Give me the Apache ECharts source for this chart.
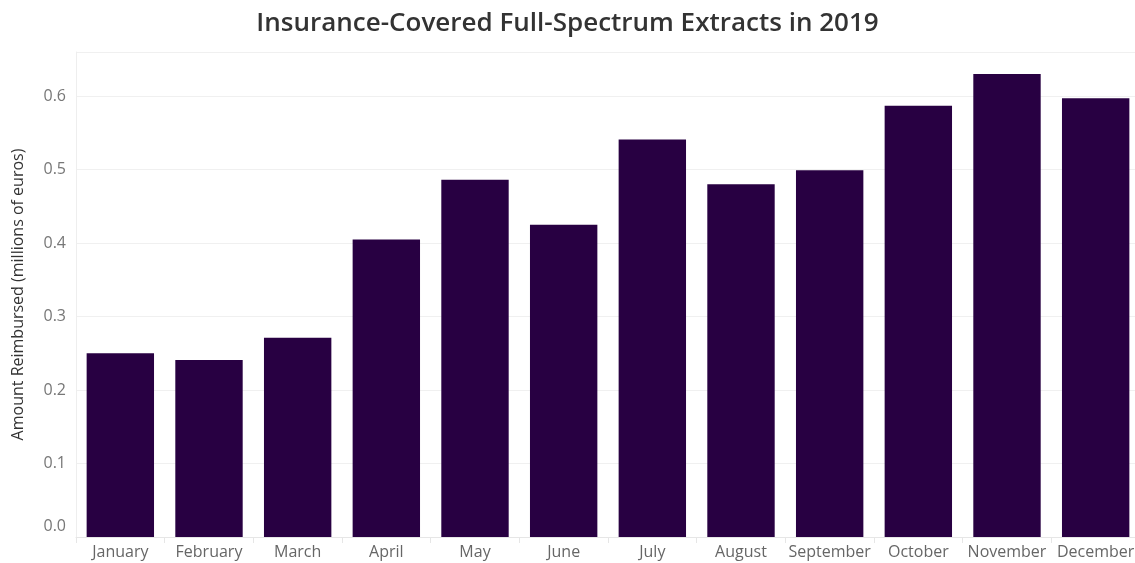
<!DOCTYPE html>
<html>
<head>
<meta charset="utf-8">
<script src="https://cdn.jsdelivr.net/npm/echarts@6/dist/echarts.min.js"></script>
<style>
    html, body { margin: 0; padding: 0; background: #fff; }
    #chart { width: 1135px; height: 563px; }
</style>
</head>
<body>
<div id="chart"></div>
<script>
    // data
    var months = ['January', 'February', 'March', 'April', 'May', 'June',
        'July', 'August', 'September', 'October', 'November', 'December'];
    var reimbursed = [0.250, 0.241, 0.271, 0.405, 0.486, 0.425,
        0.541, 0.480, 0.499, 0.587, 0.630, 0.597];
    var yTicks = [0, 0.1, 0.2, 0.3, 0.4, 0.5, 0.6];

    var myChart = echarts.init(document.getElementById('chart'));
    myChart.setOption({
        animation: false,
        title: {
            text: 'Insurance-Covered Full-Spectrum Extracts in 2019',
            left: 'center',
            top: 6,
            textStyle: {
                fontFamily: 'Open Sans',
                fontSize: 26,
                fontWeight: 600,
                color: '#333333'
            }
        },
        grid: {
            left: 76,
            right: -5,
            top: 52,
            bottom: 26,
            containLabel: false,
            outerBoundsMode: 'none'
        },
        xAxis: {
            type: 'category',
            data: months,
            axisLine: { show: true, lineStyle: { color: '#e6e6e6' } },
            axisTick: { show: true, length: 6, lineStyle: { color: '#e6e6e6' } },
            axisLabel: {
                interval: 0,
                fontFamily: 'Open Sans',
                fontSize: 16,
                color: '#666666',
                margin: 7
            }
        },
        yAxis: {
            type: 'value',
            min: 0,
            max: 0.66,
            interval: 0.1,
            name: 'Amount Reimbursed (millions of euros)',
            nameLocation: 'middle',
            nameGap: 50,
            nameTextStyle: {
                fontFamily: 'Open Sans',
                fontSize: 16,
                color: '#333333'
            },
            axisLine: { show: true, lineStyle: { color: '#eeeeee' } },
            axisTick: { show: false },
            splitLine: { lineStyle: { color: '#f0f0f0' } },
            axisLabel: {
                fontFamily: 'Open Sans',
                fontSize: 16,
                color: '#777777',
                margin: 10,
                showMaxLabel: false,
                formatter: function (v) {
                    if (yTicks.indexOf(Math.round(v * 10) / 10) < 0) return '';
                    if (v === 0) return '{z|0.0}';
                    return v.toFixed(1);
                },
                rich: {
                    z: {
                        fontFamily: 'Open Sans',
                        fontSize: 16,
                        color: '#777777',
                        padding: [0, 0, 22, 0]
                    }
                }
            }
        },
        series: [{
            name: 'Amount Reimbursed',
            type: 'bar',
            data: reimbursed,
            barWidth: '76%',
            itemStyle: { color: '#280042' }
        }]
    });
</script>
</body>
</html>
